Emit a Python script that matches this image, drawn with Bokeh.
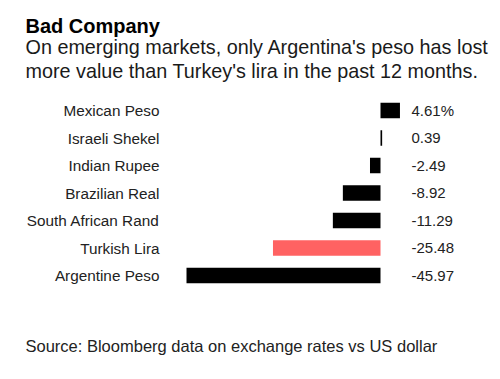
import numpy as np
from bokeh.plotting import figure
from bokeh.models import Range1d, Label, ColumnDataSource
from bokeh.core.properties import value
from bokeh.embed import file_html
from bokeh.resources import INLINE

categories = ["Mexican Peso", "Israeli Shekel", "Indian Rupee", "Brazilian Real",
              "South African Rand", "Turkish Lira", "Argentine Peso"]
changes = [4.61, 0.39, -2.49, -8.92, -11.29, -25.48, -45.97]
highlight = "Turkish Lira"

title_text = "Bad Company"
subtitle_lines = ["On emerging markets, only Argentina's peso has lost",
                  "more value than Turkey's lira in the past 12 months."]
source_text = "Source: Bloomberg data on exchange rates vs US dollar"

FONT = "Liberation Sans"
W, H = 500, 379
PX_X = 4.22      # pixels per percentage point
ZERO_PX = 380    # zero position from the left edge
PX_Y = 27.5      # pixels per row
BOTTOM_PX = 104  # last row centre from bottom

n = len(categories)
ypos = list(np.arange(n)[::-1].astype(float))
colors = ["#ff6262" if c == highlight else "#000000" for c in categories]
labels = [f"{v:.2f}%" if i == 0 else f"{v:.2f}" for i, v in enumerate(changes)]

src = ColumnDataSource(dict(cat=categories, val=changes, y=ypos, color=colors,
                            lab=labels))

x_range = Range1d(-ZERO_PX / PX_X, (W - ZERO_PX) / PX_X)
y_start = -BOTTOM_PX / PX_Y
y_range = Range1d(y_start, y_start + H / PX_Y)

p = figure(width=W, height=H, x_range=x_range, y_range=y_range,
           output_backend="svg", toolbar_location=None,
           min_border=0, min_border_left=0, min_border_right=0,
           min_border_top=0, min_border_bottom=0)
p.xaxis.visible = False
p.yaxis.visible = False
p.grid.visible = False
p.outline_line_color = None
p.background_fill_color = "white"
p.border_fill_color = "white"

p.hbar(y="y", left=0, right="val", height=0.56, fill_color="color",
       line_color=None, source=src)

label_x = -(ZERO_PX - 159) / PX_X
value_x = (411 - ZERO_PX) / PX_X
p.text(x=label_x, y="y", text="cat", source=src, text_align="right",
       text_baseline="middle", text_font=value(FONT), text_font_size="15.3px",
       text_color="#222222")
p.text(x=value_x, y="y", text="lab", source=src, text_align="left",
       text_baseline="middle", text_font=value(FONT), text_font_size="15px",
       text_color="#222222")

p.add_layout(Label(x=25, y=354, x_units="screen", y_units="screen",
                   text=title_text, text_font=FONT, text_font_size="20px",
                   text_font_style="bold", text_color="#000000",
                   text_baseline="alphabetic"))
for i, line in enumerate(subtitle_lines):
    p.add_layout(Label(x=25, y=333 - 24 * i, x_units="screen", y_units="screen",
                       text=line, text_font=FONT, text_font_size="19.8px",
                       text_color="#1a1a1a", text_baseline="alphabetic"))
p.add_layout(Label(x=25, y=34, x_units="screen", y_units="screen",
                   text=source_text, text_font=FONT, text_font_size="16.5px",
                   text_color="#222222", text_baseline="alphabetic"))

open("out.html", "w").write(file_html(p, INLINE))
